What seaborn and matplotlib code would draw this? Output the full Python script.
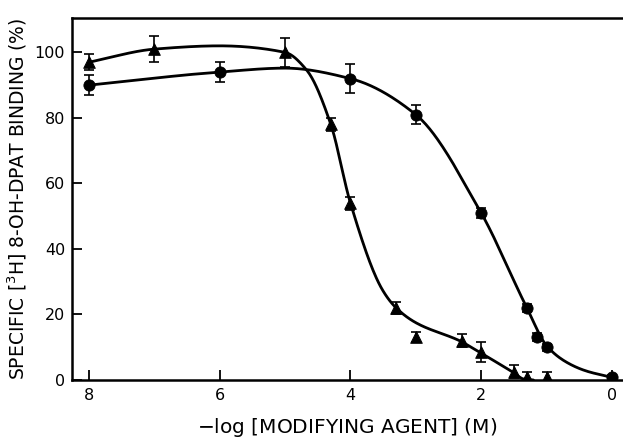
import numpy as np
import pandas as pd
import matplotlib
matplotlib.use("Agg")
import matplotlib.pyplot as plt
import seaborn as sns

# --- data ---
tri_x = [8.0, 7.0, 5.0, 4.3, 4.0, 3.3, 3.0, 2.3, 2.0, 1.5, 1.3, 1.0]
tri_y = [97, 101, 100, 78, 54, 22, 13, 12, 8.5, 2.5, 1, 1]
tri_err = [2.5, 4, 4.5, 2, 2, 1.8, 1.5, 2, 3, 2, 1.5, 1.5]

cir_x = [8.0, 6.0, 4.0, 3.0, 2.0, 1.3, 1.15, 1.0, 0.0]
cir_y = [90, 94, 92, 81, 51, 22, 13, 10, 1]
cir_err = [3, 3, 4.5, 3, 1.5, 1.2, 1.2, 1, 0.5]

# fitted curves (anchor points)
tri_fit_x = [8.0, 7.0, 6.0, 5.0, 4.67, 4.3, 4.0, 3.51, 3.3, 3.0, 2.3, 2.0, 1.5, 1.35, 1.2]
tri_fit_y = [97, 101, 102, 100, 94.6, 78, 54, 27.5, 22, 17.5, 11.7, 8.2, 2.2, 0.3, 0]

cir_fit_x = [8.0, 6.0, 5.0, 4.0, 3.0, 2.0, 1.3, 1.0, 0.7, 0.4, 0.0]
cir_fit_y = [90, 94, 95.2, 92, 81, 51, 22, 10.5, 5.5, 2.8, 0.8]

x_ticks = [8, 6, 4, 2, 0]
y_ticks = [0, 20, 40, 60, 80, 100]


def pchip(x, y, xs):
    x = np.asarray(x, float); y = np.asarray(y, float)
    o = np.argsort(x); x = x[o]; y = y[o]
    h = np.diff(x); d = np.diff(y) / h
    m = np.zeros_like(x)
    for k in range(1, len(x) - 1):
        if d[k - 1] * d[k] > 0:
            w1 = 2 * h[k] + h[k - 1]; w2 = h[k] + 2 * h[k - 1]
            m[k] = (w1 + w2) / (w1 / d[k - 1] + w2 / d[k])
    m[0] = d[0]; m[-1] = d[-1]
    idx = np.clip(np.searchsorted(x, xs) - 1, 0, len(x) - 2)
    t = (xs - x[idx]) / h[idx]
    h00 = 2 * t**3 - 3 * t**2 + 1; h10 = t**3 - 2 * t**2 + t
    h01 = -2 * t**3 + 3 * t**2; h11 = t**3 - t**2
    return h00 * y[idx] + h10 * h[idx] * m[idx] + h01 * y[idx + 1] + h11 * h[idx] * m[idx + 1]


sns.set_style("ticks")
plt.rcParams["font.family"] = ["DejaVu Sans"]
plt.rcParams["text.color"] = "black"
plt.rcParams["axes.labelcolor"] = "black"
plt.rcParams["xtick.color"] = "black"
plt.rcParams["ytick.color"] = "black"

fig = plt.figure(figsize=(6.23, 4.38), dpi=100)
ax = fig.add_axes([72 / 623, 1 - 380 / 438, 1 - 72 / 623, (380 - 18) / 438])

for fx, fy in [(tri_fit_x, tri_fit_y), (cir_fit_x, cir_fit_y)]:
    xs = np.linspace(min(fx), max(fx), 400)
    ys = pchip(fx, fy, xs)
    sns.lineplot(x=xs, y=ys, ax=ax, color="black", lw=2.0, estimator=None, sort=False)

ax.errorbar(tri_x, tri_y, yerr=tri_err, fmt="none", ecolor="black", elinewidth=1.2, capsize=3.5, capthick=1.2, zorder=3)
ax.errorbar(cir_x, cir_y, yerr=cir_err, fmt="none", ecolor="black", elinewidth=1.2, capsize=3.5, capthick=1.2, zorder=3)

sns.scatterplot(x=tri_x, y=tri_y, ax=ax, marker="^", s=70, color="black", edgecolor="black", zorder=4)
sns.scatterplot(x=cir_x, y=cir_y, ax=ax, marker="o", s=65, color="black", edgecolor="black", zorder=4)

ax.set_xlim(8.26, -0.17)
ax.set_ylim(0, 110.5)
ax.set_xticks(x_ticks)
ax.set_yticks(y_ticks)
ax.tick_params(direction="in", length=7, width=1.3, labelsize=11.5, pad=6, colors="black")
ax.tick_params(axis="y", pad=5)

for s in ["left", "bottom", "top"]:
    ax.spines[s].set_linewidth(1.8)
    ax.spines[s].set_color("black")
    ax.spines[s].set_visible(True)
ax.spines["right"].set_visible(False)

ax.set_xlabel("$-$log [MODIFYING AGENT] (M)", fontsize=14.5, labelpad=9)
ax.set_ylabel(r"SPECIFIC [$^3$H] 8-OH-DPAT BINDING (%)", fontsize=13.5, labelpad=4)

fig.savefig("out.png", dpi=100)
